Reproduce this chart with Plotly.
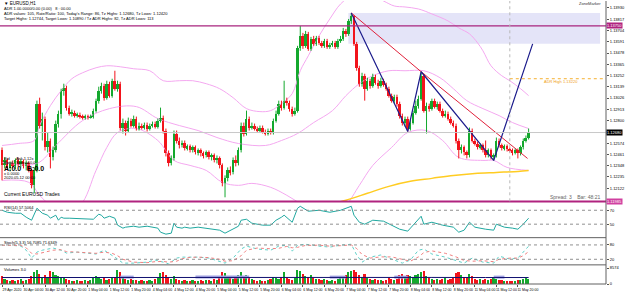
import plotly.graph_objects as go

# ---------------- data ----------------
bar_index = list(range(197))

open_ = [1.1250,1.1235,1.1240,1.1232,1.1237,1.1234,1.1240,1.1236,1.1239,1.1234,
1.1237,1.1230,1.1215,1.1230,1.1297,1.1275,1.1282,1.1253,1.1260,1.1243,
1.1250,1.1277,1.1287,1.1310,1.1313,1.1293,1.1287,1.1288,1.1285,1.1286,
1.1284,1.1283,1.1284,1.1283,1.1284,1.1290,1.1300,1.1310,1.1315,1.1303,
1.1317,1.1305,1.1320,1.1312,1.1317,1.1273,1.1278,1.1270,1.1280,1.1275,
1.1282,1.1272,1.1275,1.1273,1.1276,1.1272,1.1275,1.1277,1.1274,1.1280,
1.1283,1.1270,1.1247,1.1237,1.1242,1.1267,1.1260,1.1255,1.1258,1.1252,
1.1254,1.1250,1.1253,1.1248,1.1250,1.1247,1.1245,1.1248,1.1243,1.1245,
1.1240,1.1242,1.1235,1.1217,1.1222,1.1230,1.1228,1.1240,1.1237,1.1250,
1.1275,1.1267,1.1282,1.1273,1.1275,1.1272,1.1270,1.1273,1.1269,1.1267,
1.1270,1.1268,1.1280,1.1287,1.1297,1.1293,1.1300,1.1298,1.1292,1.1287,
1.1290,1.1353,1.1365,1.1355,1.1367,1.1352,1.1362,1.1357,1.1363,1.1358,
1.1355,1.1360,1.1354,1.1356,1.1358,1.1354,1.1360,1.1362,1.1370,1.1367,
1.1380,1.1385,1.1357,1.1333,1.1317,1.1325,1.1312,1.1320,1.1315,1.1324,
1.1318,1.1315,1.1320,1.1316,1.1312,1.1305,1.1300,1.1304,1.1297,1.1285,
1.1278,1.1282,1.1272,1.1278,1.1288,1.1295,1.1302,1.1325,1.1290,1.1295,
1.1292,1.1300,1.1294,1.1297,1.1290,1.1285,1.1287,1.1282,1.1278,1.1275,
1.1260,1.1250,1.1253,1.1248,1.1245,1.1270,1.1260,1.1257,1.1253,1.1255,
1.1250,1.1245,1.1250,1.1243,1.1245,1.1260,1.1255,1.1252,1.1254,1.1251,
1.1250,1.1248,1.1250,1.1247,1.1253,1.1260,1.1263]

close = [1.1235,1.1240,1.1232,1.1237,1.1234,1.1240,1.1236,1.1239,1.1234,1.1237,
1.1230,1.1215,1.1230,1.1297,1.1275,1.1282,1.1253,1.1260,1.1243,1.1250,
1.1277,1.1287,1.1310,1.1313,1.1293,1.1287,1.1288,1.1285,1.1286,1.1284,
1.1283,1.1284,1.1283,1.1284,1.1290,1.1300,1.1310,1.1315,1.1303,1.1317,
1.1305,1.1320,1.1312,1.1317,1.1273,1.1278,1.1270,1.1280,1.1275,1.1282,
1.1272,1.1275,1.1273,1.1276,1.1272,1.1275,1.1277,1.1274,1.1280,1.1283,
1.1270,1.1247,1.1237,1.1242,1.1267,1.1260,1.1255,1.1258,1.1252,1.1254,
1.1250,1.1253,1.1248,1.1250,1.1247,1.1245,1.1248,1.1243,1.1245,1.1240,
1.1242,1.1235,1.1217,1.1222,1.1230,1.1228,1.1240,1.1237,1.1250,1.1275,
1.1267,1.1282,1.1273,1.1275,1.1272,1.1270,1.1273,1.1269,1.1267,1.1270,
1.1268,1.1280,1.1287,1.1297,1.1293,1.1300,1.1298,1.1292,1.1287,1.1290,
1.1353,1.1365,1.1355,1.1367,1.1352,1.1362,1.1357,1.1363,1.1358,1.1355,
1.1360,1.1354,1.1356,1.1358,1.1354,1.1360,1.1362,1.1370,1.1367,1.1380,
1.1385,1.1357,1.1333,1.1317,1.1325,1.1312,1.1320,1.1315,1.1324,1.1318,
1.1315,1.1320,1.1316,1.1312,1.1305,1.1300,1.1304,1.1297,1.1285,1.1278,
1.1282,1.1272,1.1278,1.1288,1.1295,1.1302,1.1325,1.1290,1.1295,1.1292,
1.1300,1.1294,1.1297,1.1290,1.1285,1.1287,1.1282,1.1278,1.1275,1.1260,
1.1250,1.1253,1.1248,1.1245,1.1270,1.1260,1.1257,1.1253,1.1255,1.1250,
1.1245,1.1250,1.1243,1.1245,1.1260,1.1255,1.1252,1.1254,1.1251,1.1250,
1.1248,1.1250,1.1247,1.1253,1.1260,1.1263,1.1268]

high = [1.1253,1.1243,1.1242,1.1239,1.1240,1.1242,1.1243,1.1241,1.1241,1.1240,
1.1239,1.1232,1.1233,1.1300,1.1303,1.1288,1.1284,1.1268,1.1262,1.1254,
1.1280,1.1290,1.1312,1.1317,1.1315,1.1295,1.1291,1.1290,1.1288,1.1288,
1.1286,1.1286,1.1286,1.1286,1.1292,1.1302,1.1314,1.1318,1.1317,1.1320,
1.1319,1.1322,1.1330,1.1320,1.1319,1.1282,1.1280,1.1283,1.1282,1.1285,
1.1284,1.1278,1.1277,1.1278,1.1278,1.1277,1.1279,1.1279,1.1282,1.1293,
1.1285,1.1272,1.1250,1.1245,1.1270,1.1270,1.1263,1.1260,1.1260,1.1256,
1.1256,1.1255,1.1255,1.1252,1.1252,1.1249,1.1250,1.1250,1.1247,1.1247,
1.1245,1.1244,1.1237,1.1225,1.1233,1.1234,1.1243,1.1245,1.1253,1.1278,
1.1278,1.1290,1.1284,1.1278,1.1277,1.1274,1.1275,1.1275,1.1271,1.1272,
1.1272,1.1282,1.1290,1.1300,1.1300,1.1320,1.1303,1.1300,1.1294,1.1293,
1.1355,1.1375,1.1368,1.1370,1.1369,1.1364,1.1365,1.1365,1.1365,1.1360,
1.1362,1.1362,1.1358,1.1360,1.1360,1.1362,1.1365,1.1373,1.1372,1.1382,
1.1388,1.1386,1.1359,1.1335,1.1328,1.1327,1.1323,1.1322,1.1327,1.1326,
1.1321,1.1323,1.1322,1.1318,1.1314,1.1307,1.1306,1.1306,1.1299,1.1287,
1.1284,1.1284,1.1281,1.1290,1.1300,1.1305,1.1329,1.1327,1.1298,1.1297,
1.1302,1.1302,1.1299,1.1299,1.1292,1.1290,1.1289,1.1284,1.1280,1.1277,
1.1262,1.1256,1.1255,1.1250,1.1273,1.1272,1.1262,1.1259,1.1257,1.1257,
1.1260,1.1252,1.1252,1.1247,1.1263,1.1262,1.1257,1.1256,1.1256,1.1253,
1.1252,1.1252,1.1252,1.1255,1.1262,1.1265,1.1272]

low = [1.1220,1.1232,1.1230,1.1229,1.1232,1.1231,1.1234,1.1233,1.1232,1.1230,
1.1228,1.1212,1.1207,1.1228,1.1272,1.1260,1.1250,1.1248,1.1232,1.1240,
1.1248,1.1273,1.1282,1.1305,1.1290,1.1285,1.1284,1.1283,1.1283,1.1282,
1.1281,1.1281,1.1281,1.1282,1.1282,1.1288,1.1297,1.1307,1.1300,1.1301,
1.1303,1.1303,1.1310,1.1309,1.1270,1.1267,1.1265,1.1268,1.1273,1.1273,
1.1270,1.1270,1.1271,1.1271,1.1269,1.1270,1.1273,1.1272,1.1272,1.1278,
1.1267,1.1244,1.1234,1.1235,1.1240,1.1257,1.1252,1.1253,1.1250,1.1250,
1.1248,1.1248,1.1246,1.1245,1.1244,1.1242,1.1243,1.1241,1.1240,1.1238,
1.1237,1.1232,1.1214,1.1203,1.1219,1.1225,1.1226,1.1234,1.1235,1.1248,
1.1264,1.1265,1.1270,1.1271,1.1270,1.1268,1.1268,1.1267,1.1265,1.1265,
1.1266,1.1266,1.1278,1.1285,1.1290,1.1291,1.1295,1.1289,1.1284,1.1285,
1.1288,1.1350,1.1352,1.1353,1.1350,1.1350,1.1355,1.1355,1.1356,1.1353,
1.1353,1.1352,1.1352,1.1354,1.1352,1.1352,1.1358,1.1360,1.1364,1.1365,
1.1377,1.1355,1.1330,1.1314,1.1314,1.1300,1.1310,1.1312,1.1313,1.1316,
1.1312,1.1313,1.1314,1.1310,1.1303,1.1298,1.1297,1.1294,1.1282,1.1275,
1.1274,1.1269,1.1270,1.1276,1.1286,1.1292,1.1300,1.1288,1.1267,1.1289,
1.1290,1.1292,1.1291,1.1288,1.1283,1.1283,1.1280,1.1276,1.1273,1.1257,
1.1242,1.1247,1.1245,1.1242,1.1243,1.1258,1.1255,1.1251,1.1251,1.1248,
1.1243,1.1243,1.1241,1.1240,1.1243,1.1253,1.1250,1.1250,1.1249,1.1248,
1.1245,1.1246,1.1242,1.1245,1.1251,1.1258,1.1261]

volume = [4100,2500,1900,1500,2100,1400,2000,2600,1600,2000,
2400,4100,6000,7000,5100,3500,4400,3000,6500,6100,
4600,3900,3600,3100,2500,2000,1600,1400,1900,1500,
1500,2100,1600,1900,3100,3900,3600,2500,3100,2100,
2400,3000,3400,7000,6100,3100,2600,2000,2500,1900,
2100,1500,1900,1600,1400,2000,1600,2600,3100,5600,
6100,4500,3600,2500,4000,2600,2100,1500,2000,1600,
1500,2100,1600,1400,2000,1500,2100,1900,1500,2600,
2000,3100,6000,5600,3500,3000,2600,3100,4500,6100,
4000,4600,3100,2500,2000,1500,2100,1600,1500,2000,
2600,3500,3100,2500,3600,6000,3000,2500,2000,3100,
7000,6600,5000,4000,3500,4600,3000,2500,2600,2000,
2500,2000,1600,2000,1500,2500,3000,3600,4500,6000,
6600,7000,6000,4600,3500,5100,3000,2500,2000,2600,
2000,2100,1500,2000,3000,2500,2000,2600,4500,5100,
3000,4500,4000,3500,4600,5000,6100,6600,4000,3000,
2500,2000,2600,2000,2500,3100,2000,2500,3000,5600,
6100,4500,3600,3000,5000,4000,2500,2000,2600,2000,
2500,2000,2600,3000,2500,2000,2100,1500,1600,1500,
1500,1600,2000,2100,2500,3000,2600]

# Bollinger bands (read at sample bars)
bb_up_x = [0,6,12,14,18,22,26,30,35,39,44,49,55,60,66,71,76,81,86,91,96,100,104,108,111,
           114,118,122,126,130,134,138,142,146,150,155,160,166,170,174,177,179,182,186,189,193,196]
bb_up = [1.1255,1.1257,1.1260,1.1275,1.1295,1.1310,1.1322,1.1328,1.1333,1.1335,1.1334,1.1332,1.1330,
         1.1320,1.1320,1.1320,1.1317,1.1312,1.1303,1.1292,1.1289,1.1290,1.1297,1.1307,1.1330,1.1345,
         1.1365,1.1382,1.1397,1.1405,1.1408,1.1405,1.1400,1.1395,1.1394,1.1392,1.1387,1.1380,1.1373,
         1.1367,1.1358,1.1350,1.1335,1.1325,1.1320,1.1312,1.1305]
bb_mid_x = [0,13,20,30,40,50,58,66,73,80,88,98,104,110,116,123,128,133,138,144,150,157,163,168,173,
            179,185,190,196]
bb_mid = [1.1238,1.1237,1.1255,1.1280,1.1292,1.1294,1.1282,1.1275,1.1270,1.1263,1.1257,1.1255,1.1260,
          1.1267,1.1278,1.1290,1.1305,1.1317,1.1325,1.1330,1.1330,1.1330,1.1323,1.1312,1.1300,1.1292,
          1.1285,1.1278,1.1272]
bb_lo_x = [0,10,14,18,22,29,35,39,43,50,58,64,70,76,82,88,93,100,106,112,118,124,128,133,138,145,
           151,158,164,170,179,183,188,196]
bb_lo = [1.1220,1.1218,1.1205,1.1195,1.1190,1.1195,1.1230,1.1253,1.1268,1.1272,1.1260,1.1240,1.1235,
         1.1230,1.1218,1.1215,1.1217,1.1213,1.1205,1.1195,1.1185,1.1188,1.1195,1.1215,1.1235,1.1253,
         1.1268,1.1270,1.1260,1.1243,1.1240,1.1240,1.1233,1.1230]

ma_x = [120,128,136,144,152,160,168,176,184,192,196]
ma_val = [1.1194,1.1200,1.1207,1.1214,1.1219,1.1222,1.1225,1.1227,1.1228,1.1229,1.1230]

zz_blue_x = [130,151,156,183,197.5]
zz_blue_y = [1.1388,1.1269,1.1329,1.1240,1.1357]
zz_red_x = [130,156,195.6]
zz_red_y = [1.1388,1.1329,1.1242]

zone_x = [128.9,222.6]
zone_y = [1.1357,1.1388]
level_top = 1.1375
level_bottom = 1.11985
adr_high = 1.1322
adr_start = 189

rsi_x = [0,2,5,7,9,11,13,15,17,18,20,21,22,23,25,34,36,37,38,40,42,43,45,46,49,51,54,57,58,59,
         61,63,64,65,67,68,70,73,78,81,83,85,88,89,91,93,97,100,102,104,105,108,110,111,114,118,
         122,126,129,130,131,133,135,138,142,145,148,151,153,156,157,160,164,168,170,172,174,176,
         180,183,184,187,190,192,194,196]
rsi = [70.0,67.1,65.7,65.7,60.0,55.7,72.9,65.7,62.9,58.6,62.9,55.7,60.0,58.6,58.6,57.1,64.3,62.9,
       58.6,61.4,58.6,48.6,44.3,45.7,47.1,45.7,47.1,45.7,44.3,38.5,35.7,37.1,51.4,45.7,44.3,45.7,
       44.3,45.7,42.8,41.4,37.1,41.4,47.1,55.7,57.1,51.4,48.6,48.6,55.7,60.0,62.9,52.8,72.9,75.7,
       68.6,70.0,67.1,70.0,74.3,75.7,62.9,52.8,50.0,55.7,54.3,48.6,42.8,40.0,48.6,61.4,50.0,52.8,
       48.6,45.7,38.5,41.4,52.8,45.7,42.8,41.4,50.0,45.7,44.3,42.8,50.0,58.6]

st_x = [0,3,7,9,11,13,15,19,22,24,28,31,35,38,41,43,45,49,54,57,60,62,65,67,70,73,77,81,83,86,89,
        91,95,100,103,106,108,110,113,118,122,126,130,132,134,137,141,145,149,152,155,157,160,165,
        169,172,175,179,183,185,189,192,194,196]
st_main = [79,79,75,58,25,50,58,67,58,46,50,46,42,58,38,21,4,4,8,17,8,1,25,29,29,29,25,13,4,25,63,
           75,63,58,75,79,54,79,83,75,71,79,83,38,8,29,38,21,4,17,58,63,42,29,13,4,25,8,4,33,21,25,
           50,75]
st_signal = [79,79,78,68,45,42,48,58,60,52,50,48,45,50,45,35,20,8,6,10,11,8,12,22,28,29,27,20,12,
             14,35,58,67,64,66,74,68,70,78,79,75,77,80,65,40,25,30,30,20,12,30,48,55,45,30,15,12,
             14,10,20,25,25,35,52]

vol_ma_x = [0,20,40,60,80,100,120,140,160,180,196]
vol_ma = [3250,3300,3350,3300,3250,3250,3300,3350,3300,3250,3250]
vol_hi_segments = [(44,49),(72,92),(122,128),(146,151),(183,187)]
vol_hi_level = 3450

time_bars = [0,8,16,24,32,40,48,56,64,72,80,88,96,104,112,120,128,136,144,152,160,168,176,184,192]
time_labels = ["29 Apr 2020","30 Apr 04:00","30 Apr 12:00","30 Apr 20:00","1 May 04:00",
               "1 May 12:00","1 May 20:00","4 May 04:00","4 May 12:00","4 May 20:00","5 May 04:00",
               "5 May 12:00","5 May 20:00","6 May 04:00","6 May 12:00","6 May 20:00","7 May 04:00",
               "7 May 12:00","7 May 20:00","8 May 04:00","8 May 12:00","8 May 20:00","11 May 04:00",
               "11 May 12:00","11 May 20:00"]
price_ticks = ["1.13930","1.13817","1.13704","1.13591","1.13478","1.13365","1.13252","1.13139",
               "1.13026","1.12913","1.12800","1.12574","1.12461","1.12348","1.12235","1.12122"]

# ---------------- figure ----------------
GREEN = "#14a82e"
RED = "#f2141c"
PINK = "#f4a8f0"
FONT = "Liberation Sans"

up = [c >= o for o, c in zip(open_, close)]
body_base = [min(o, c) for o, c in zip(open_, close)]
body_h = [max(abs(c - o), 0.00004) for o, c in zip(open_, close)]
cols = [GREEN if u else RED for u in up]

fig = go.Figure()

fig.add_shape(type="rect", xref="x", yref="y", x0=zone_x[0], x1=zone_x[1], y0=zone_y[0], y1=zone_y[1],
              fillcolor="#e4e4f8", line_width=0, layer="below")

for xs, ys in [(bb_up_x, bb_up), (bb_mid_x, bb_mid), (bb_lo_x, bb_lo)]:
    fig.add_trace(go.Scatter(x=xs, y=ys, mode="lines", line=dict(color=PINK, width=1, shape="spline"),
                             hoverinfo="skip"))
fig.add_trace(go.Scatter(x=ma_x, y=ma_val, mode="lines", line=dict(color="#ffcc22", width=1.5, shape="spline")))

for flag, col in [(True, GREEN), (False, RED)]:
    wx, wy = [], []
    for i in bar_index:
        if up[i] == flag:
            wx += [i, i, None]
            wy += [low[i], high[i], None]
    fig.add_trace(go.Scatter(x=wx, y=wy, mode="lines", line=dict(color=col, width=1)))
fig.add_trace(go.Bar(x=bar_index, y=body_h, base=body_base, width=0.72, marker=dict(color=cols, line_width=0)))

fig.add_trace(go.Scatter(x=zz_red_x, y=zz_red_y, mode="lines", line=dict(color="#e0203a", width=1)))
fig.add_trace(go.Scatter(x=zz_blue_x, y=zz_blue_y, mode="lines", line=dict(color="#1c1c8c", width=1.2)))

fig.add_trace(go.Scatter(x=rsi_x, y=rsi, mode="lines", line=dict(color="#20a8a0", width=1), yaxis="y2"))
fig.add_trace(go.Scatter(x=st_x, y=st_main, mode="lines", line=dict(color="#5fd0c8", width=1, dash="dot"), yaxis="y3"))
fig.add_trace(go.Scatter(x=st_x, y=st_signal, mode="lines", line=dict(color="#f08080", width=1, dash="dot"), yaxis="y3"))
fig.add_trace(go.Bar(x=bar_index, y=volume, width=0.6, marker=dict(color=cols, line_width=0), yaxis="y4"))
for a, b in vol_hi_segments:
    fig.add_trace(go.Scatter(x=[a, b], y=[vol_hi_level, vol_hi_level], mode="lines",
                             line=dict(color="#a0a0e0", width=3), yaxis="y4"))
fig.add_trace(go.Scatter(x=vol_ma_x, y=vol_ma, mode="lines", line=dict(color="#101070", width=1), yaxis="y4"))

H = 284.0
def py(p):
    return (H - p) / H

def px(p):
    return p / 609.0

tick_font = dict(family=FONT, size=4, color="black")

fig.update_layout(
    width=625, height=293, margin=dict(l=0, r=16, t=0, b=9),
    paper_bgcolor="white", plot_bgcolor="white", showlegend=False, bargap=0,
    xaxis=dict(range=[-0.75, 224.8], anchor="y4", showgrid=False, zeroline=False,
               tickvals=time_bars, ticktext=time_labels, ticks="outside", ticklen=2, tickangle=0,
               tickcolor="#555", tickfont=dict(family=FONT, size=3.5, color="black"),
               ticklabelshift=10, showline=False),
    yaxis=dict(domain=[py(201), 1.0], range=[1.1199, 1.1400], side="right", showgrid=False,
               zeroline=False, tickvals=[float(t) for t in price_ticks], ticktext=price_ticks,
               ticks="outside", ticklen=2, tickcolor="#555", tickfont=tick_font, anchor="x"),
    yaxis2=dict(domain=[py(236), py(203)], range=[32.8, 80.0], side="right", showgrid=False,
                zeroline=False, tickvals=[70, 50], ticktext=["70", "50"],
                ticks="outside", ticklen=2, tickcolor="#555", tickfont=tick_font, anchor="x"),
    yaxis3=dict(domain=[py(264), py(240)], range=[0, 100], side="right", showgrid=False,
                zeroline=False, tickvals=[80, 20], ticktext=["80", "20"],
                ticks="outside", ticklen=2, tickcolor="#555", tickfont=tick_font, anchor="x"),
    yaxis4=dict(domain=[0, py(266)], range=[0, 9000], side="right", showgrid=False,
                zeroline=False, tickvals=[8000, 0], ticktext=["8574", "0"],
                ticks="outside", ticklen=2, tickcolor="#555", tickfont=tick_font, anchor="x"),
)

for val in [70, 50]:
    fig.add_shape(type="line", xref="paper", yref="y2", x0=0, x1=1, y0=val, y1=val,
                  line=dict(color="#909090", width=1, dash="dot"))
for val in [80, 20]:
    fig.add_shape(type="line", xref="paper", yref="y3", x0=0, x1=1, y0=val, y1=val,
                  line=dict(color="#909090", width=1, dash="dot"))

fig.add_shape(type="line", xref="paper", yref="y", x0=0, x1=1, y0=close[-1], y1=close[-1],
              line=dict(color="#c8c8c8", width=1))
fig.add_shape(type="line", xref="paper", yref="y", x0=0, x1=1, y0=level_top, y1=level_top,
              line=dict(color="#a8247e", width=1.3))
fig.add_shape(type="line", xref="paper", yref="paper", x0=0, x1=1, y0=py(201.3), y1=py(201.3),
              line=dict(color="#b0237f", width=2))
fig.add_shape(type="line", xref="x", yref="y", x0=adr_start, x1=224.8, y0=adr_high, y1=adr_high,
              line=dict(color="#f5b030", width=1, dash="dot"))
fig.add_shape(type="line", xref="x", yref="paper", x0=adr_start, x1=adr_start, y0=py(201), y1=1,
              line=dict(color="#b8b8b8", width=1, dash="dot"))

for p in [237.5, 264.8]:
    fig.add_shape(type="line", xref="paper", yref="paper", x0=0, x1=1, y0=py(p), y1=py(p),
                  line=dict(color="#606060", width=1))
fig.add_shape(type="line", xref="paper", yref="paper", x0=1, x1=1, y0=0, y1=1,
              line=dict(color="#606060", width=1))
fig.add_shape(type="line", xref="paper", yref="paper", x0=0, x1=1, y0=py(284), y1=py(284),
              line=dict(color="#606060", width=1))

def txt(x, y, s, size=5, color="black", anchor="left", bold=False):
    fig.add_annotation(xref="paper", yref="paper", x=px(x), y=py(y), text=("<b>%s</b>" % s) if bold else s,
                       showarrow=False, xanchor=anchor, yanchor="middle",
                       font=dict(family=FONT, size=size, color=color))

txt(2, 3, "▼ EURUSD,H1", size=4.5)
txt(2, 8, "ADR 1.00.0000/0.00 (0.00)   8 : 00.00", size=4)
txt(2, 13, "ADR values: 105, Rate/Ratio: 100, Today's Range: 86, Tz Highs: 1.12680, Tz Lows: 1.12420", size=4)
txt(2, 18, "Target Highs: 1.12744, Target Lows: 1.10890 / Tz ADR Highs: 82, Tz ADR Lows: 113", size=4)
txt(606, 3, "ZoneMarker", size=4, color="#333", anchor="right")
txt(545, 81, "ADR High 1.13220", size=4, color="#f0a020")
txt(606, 197, "Spread: 3    Bar: 48:21", size=5, color="#666", anchor="right")
txt(2, 158, "Bid", size=4)
txt(14, 158, "Ask 1.12x", size=4)
txt(2, 162, "Sprd", size=4)
txt(14, 162, "Spread 0.0", size=4)
txt(2, 168, "A:0.0", size=7, bold=True)
txt(25, 168, "B:0.0", size=7, bold=True)
txt(2, 173, "x 0.0000", size=4)
txt(2, 177, "2020.05.12 00:00", size=4)
txt(2, 194, "Current EURUSD Trades", size=5)
txt(2, 207, "RSI(14) 57.5064", size=4)
txt(2, 242, "Stoch(5,3,3) 56.7085 71.6349", size=4)
txt(2, 269, "Volumes 3.0", size=4)

def box(yval, s, bg, yref="y"):
    fig.add_annotation(xref="paper", yref=yref, x=1.0, y=yval, text=s, showarrow=False, xanchor="left",
                       yanchor="middle", bgcolor=bg, borderpad=0,
                       font=dict(family=FONT, size=4, color="white"))

box(level_top, "1.13750", "#b0237f")
box(close[-1], "%.5f" % close[-1], "#000000")
box(py(201.3), "1.11985", "#d040a0", yref="paper")

fig.write_html("out.html")
